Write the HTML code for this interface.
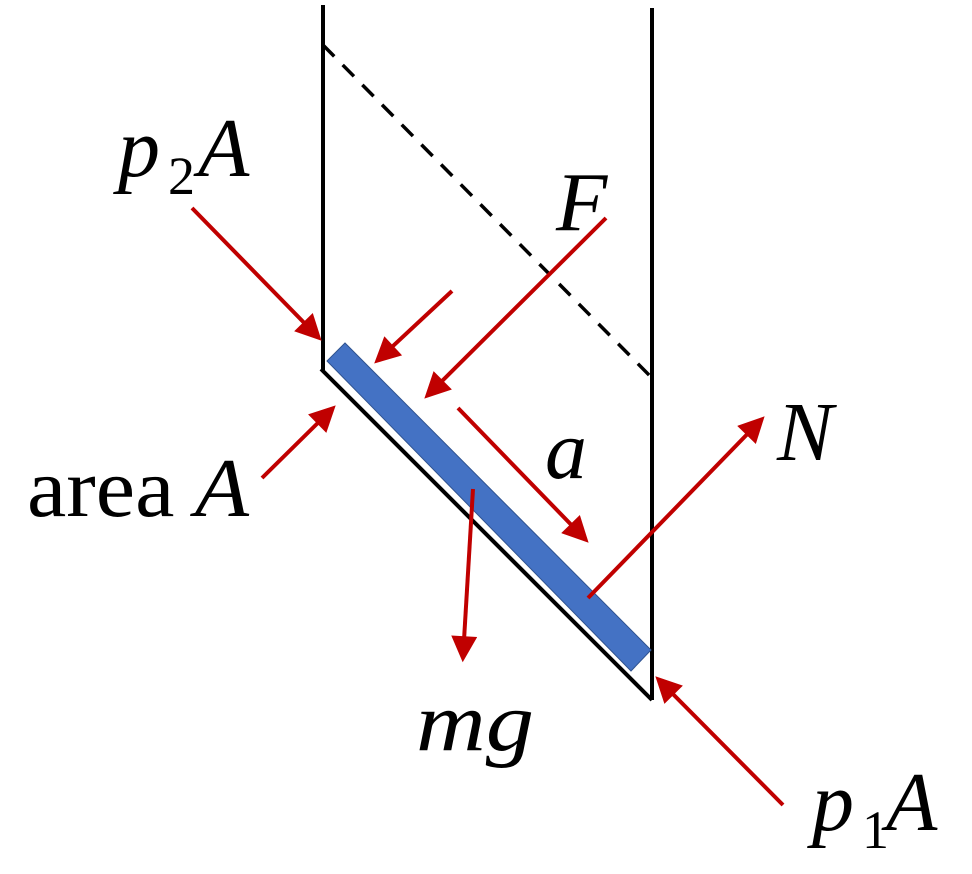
<!DOCTYPE html>
<html><head><style>html,body{margin:0;padding:0;background:#fff;}svg{display:block}</style></head>
<body>
<svg width="972" height="874" viewBox="0 0 972 874" xmlns="http://www.w3.org/2000/svg">
<defs>
<marker id="ah" viewBox="0 0 10 10" refX="8" refY="5" markerWidth="7.5" markerHeight="6.5" orient="auto" markerUnits="strokeWidth">
<path d="M0,0 L10,5 L0,10 z" fill="#c00000"/>
</marker>
</defs>
<g stroke="#000" stroke-width="4" fill="none">
<line x1="323" y1="5" x2="323" y2="370"/>
<line x1="652" y1="8" x2="652" y2="700"/>
<line x1="321" y1="369" x2="652" y2="700"/>
<line x1="323" y1="45" x2="652" y2="378" stroke-dasharray="16,12" stroke-width="3.5"/>
</g>
<polygon points="345,343 327,361 631,671 651,650" fill="#4472c4" stroke="#2f528f" stroke-width="1"/>
<g stroke="#c00000" stroke-width="4" fill="none" marker-end="url(#ah)">
<line x1="192" y1="208" x2="318" y2="337"/>
<line x1="452" y1="291" x2="378" y2="360"/>
<line x1="606" y1="218" x2="428" y2="395"/>
<line x1="262" y1="478" x2="332" y2="409"/>
<line x1="458" y1="408" x2="585" y2="539"/>
<line x1="473" y1="489" x2="463" y2="657"/>
<line x1="588" y1="598" x2="761" y2="420"/>
<line x1="783" y1="805" x2="659" y2="680"/>
</g>
<g font-family="Liberation Serif, serif" font-size="84" fill="#000" font-style="italic">
<text x="118" y="176">p</text>
<text x="168" y="194" font-size="54" font-style="normal">2</text>
<text x="198" y="176">A</text>
<text x="556" y="230">F</text>
<text x="545" y="478">a</text>
<text x="777" y="460">N</text>
<text x="27" y="516" textLength="222" lengthAdjust="spacingAndGlyphs"><tspan font-style="normal">area</tspan> A</text>
<text x="416" y="750" textLength="118" lengthAdjust="spacingAndGlyphs">mg</text>
<text x="812" y="830">p</text>
<text x="862" y="848" font-size="54" font-style="normal">1</text>
<text x="886" y="830">A</text>
</g>
</svg>
</body></html>
